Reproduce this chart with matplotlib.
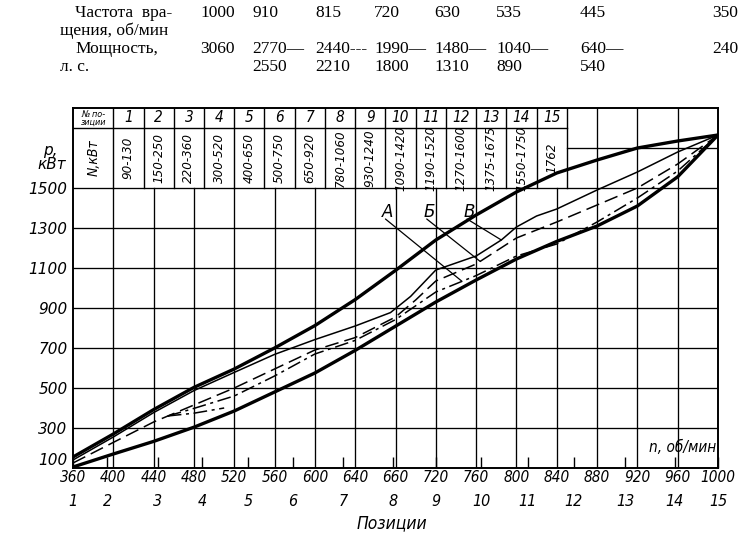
import matplotlib
matplotlib.use("Agg")
import matplotlib.pyplot as plt
from matplotlib import font_manager as fm
from matplotlib.font_manager import FontProperties
import numpy as np

# ---------------- data ----------------
# header table above the chart
hdr_freq = ["1000", "910", "815", "720", "630", "535", "445", "350"]
hdr_pow_top = ["3060", "2770—", "2440---", "1990—", "1480—", "1040—", "640—", "240"]
hdr_pow_bot = ["", "2550", "2210", "1800", "1310", "890", "540", ""]

# x axis (rotational speed, rpm)
n_ticks = [360, 400, 440, 480, 520, 560, 600, 640, 680, 720, 760, 800, 840, 880, 920, 960, 1000]
n_tick_labels = ["360", "400", "440", "480", "520", "560", "600", "640", "660", "720",
                 "760", "800", "840", "880", "920", "960", "1000"]
# controller positions
pos_n = [360, 394, 444, 488, 534, 578, 628, 678, 720, 765, 811, 857, 908, 957, 1000]
pos_labels = [str(i) for i in range(1, 16)]
pos_power = ["90-130", "150-250", "220-360", "300-520", "400-650", "500-750", "650-920",
             "780-1060", "930-1240", "1090-1420", "1190-1520", "1270-1600", "1375-1675",
             "1550-1750", "1762"]
# y axis
p_ticks = [100, 300, 500, 700, 900, 1100, 1300, 1500]

# curves
n_env = [360, 400, 440, 480, 520, 560, 600, 640, 680, 720, 760, 800, 840, 880, 920, 960, 1000]
p_max = [155, 270, 392, 503, 595, 700, 812, 942, 1088, 1240, 1365, 1480, 1575, 1640, 1700, 1735, 1765]
p_min = [105, 170, 233, 304, 385, 480, 575, 688, 809, 930, 1040, 1145, 1233, 1310, 1410, 1556, 1765]

n_V = [360, 400, 440, 480, 520, 560, 600, 640, 675, 695, 720, 760, 785, 800, 820, 840, 880, 920, 960, 1000]
p_V = [140, 255, 377, 487, 578, 668, 742, 810, 877, 958, 1090, 1160, 1240, 1305, 1360, 1395, 1490, 1580, 1680, 1765]

n_B = [360, 400, 440, 480, 520, 560, 600, 640, 680, 700, 720, 760, 800, 840, 880, 920, 960, 1000]
p_B = [125, 228, 330, 415, 500, 595, 690, 752, 855, 940, 1035, 1120, 1250, 1330, 1415, 1500, 1620, 1765]

n_A = [454, 480, 520, 560, 600, 640, 680, 720, 760, 800, 840, 880, 920, 960, 1000]
p_A = [360, 398, 460, 560, 670, 738, 842, 980, 1062, 1160, 1220, 1330, 1450, 1585, 1765]
n_A2 = [454, 480, 510]
p_A2 = [360, 374, 400]

# ---------------- fonts ----------------
def pick_font(pref_names, italic=True, bold=False):
    cands = []
    for f in fm.fontManager.ttflist:
        low = (f.name + " " + f.fname).lower()
        narrow = ("narrow" in low or "condensed" in low or
                  f.stretch in ("condensed", "semi-condensed"))
        if "extra" in low or "ultra" in low:
            continue
        if not narrow:
            continue
        it = f.style in ("italic", "oblique")
        if it != italic:
            continue
        rank = len(pref_names)
        for i, p in enumerate(pref_names):
            if f.name.lower().startswith(p.lower()):
                rank = i
                break
        w = f.weight if isinstance(f.weight, int) else 400
        cands.append((rank, abs(w - (700 if bold else 400)), f.fname))
    if cands:
        cands.sort()
        return cands[0][2]
    return None

narrow_path = pick_font(["Liberation Sans Narrow", "Noto Sans", "DejaVu Sans", "Roboto", "Open Sans"], True, False)

def nfp(size):
    if narrow_path:
        return FontProperties(fname=narrow_path, size=size)
    return FontProperties(family="DejaVu Sans", style="italic", size=size)

def ifp(size):
    return FontProperties(family="DejaVu Sans", style="italic", size=size)

def sfp(size):
    return FontProperties(family=["Liberation Serif", "DejaVu Serif"], size=size)

# ---------------- figure ----------------
W, H = 750, 535
fig = plt.figure(figsize=(W / 100, H / 100), dpi=100)
ax = fig.add_axes([73 / W, (H - 468) / H, 645 / W, 360 / H])
xmin, xmax, ymin, ymax = 360, 1000, 100, 1900
ax.set_xlim(xmin, xmax)
ax.set_ylim(ymin, ymax)

# table geometry (in data units)
tab_first_w = 40
tab_col_w = 30
tab_right = xmin + tab_first_w + tab_col_w * len(pos_power)
tab_bot, tab_mid, tab_top = 1500, 1800, 1900

# grid
glw = 0.95
for v in n_ticks[1:-1]:
    top = tab_bot if v < tab_right else ymax
    ax.plot([v, v], [ymin, top], color="black", lw=glw, zorder=1)
for v in p_ticks[1:]:
    ax.plot([xmin, xmax], [v, v], color="black", lw=glw, zorder=1)
ax.plot([tab_right, xmax], [1700, 1700], color="black", lw=glw, zorder=1)

# table lines
ax.plot([xmin, tab_right], [tab_mid, tab_mid], color="black", lw=1.0, zorder=1)
edges = [xmin + tab_first_w + tab_col_w * i for i in range(len(pos_power) + 1)]
for e in edges:
    ax.plot([e, e], [tab_bot, tab_top], color="black", lw=1.0, zorder=1)

# table text
ax.text(xmin + tab_first_w / 2, (tab_mid + tab_top) / 2, "№ по-\nзиции",
        fontproperties=nfp(6.5), ha="center", va="center", linespacing=0.85)
ax.text(xmin + tab_first_w / 2, (tab_bot + tab_mid) / 2, "N,кВт",
        fontproperties=nfp(10), ha="center", va="center", rotation=90)
for i, (lab, pw) in enumerate(zip(pos_labels, pos_power)):
    cx = edges[i] + tab_col_w / 2
    ax.text(cx, (tab_mid + tab_top) / 2, lab, fontproperties=nfp(11),
            ha="center", va="center")
    ax.text(cx, (tab_bot + tab_mid) / 2, pw, fontproperties=nfp(9.5),
            ha="center", va="center", rotation=90)

# curves
ax.plot(n_env, p_max, color="black", lw=2.4, zorder=3, solid_capstyle="round", solid_joinstyle="round")
ax.plot(n_env, p_min, color="black", lw=2.4, zorder=3, solid_capstyle="round", solid_joinstyle="round")
ax.plot(n_V, p_V, color="black", lw=1.1, zorder=3, solid_joinstyle="round")
ax.plot(n_B, p_B, color="black", lw=1.1, zorder=3, dashes=(9, 4))
ax.plot(n_A, p_A, color="black", lw=1.1, zorder=3, dashes=(9, 3, 2, 3))
ax.plot(n_A2, p_A2, color="black", lw=1.1, zorder=3, dashes=(9, 3, 2, 3))

# curve labels with leaders
for lab, nx, tx, arrs in (("А", 746, 672, (n_A, p_A)),
                          ("Б", 764, 713, (n_B, p_B)),
                          ("В", 785, 753, (n_V, p_V))):
    py = float(np.interp(nx, arrs[0], arrs[1]))
    ax.annotate("", xy=(nx, py), xytext=(tx - 2, 1345),
                arrowprops=dict(arrowstyle="-", lw=0.9, color="black",
                                shrinkA=0, shrinkB=0))
    ax.text(tx, 1380, lab, fontproperties=ifp(12), ha="center", va="center")

ax.text(xmax - 2, 205, "n, об/мин", fontproperties=nfp(11), ha="right", va="center")

# axes styling
for s in ax.spines.values():
    s.set_linewidth(1.4)
ax.set_xticks(n_ticks)
ax.set_xticklabels(n_tick_labels)
for t in ax.get_xticklabels():
    t.set_fontproperties(nfp(11))
ax.tick_params(axis="x", length=0, pad=1.5)
ax.set_yticks(p_ticks)
ax.set_yticklabels([str(v) for v in p_ticks])
for t in ax.get_yticklabels():
    t.set_fontproperties(ifp(11))
ax.tick_params(axis="y", length=0, pad=4)
ax.get_yticklabels()[0].set_va("bottom")

sec = ax.secondary_xaxis("bottom")
sec.set_xticks(pos_n)
sec.set_xticklabels(pos_labels)
for t in sec.get_xticklabels():
    t.set_fontproperties(nfp(11.5))
sec.tick_params(axis="x", direction="in", length=8, width=1.0, pad=19)
sec.spines["bottom"].set_visible(False)

fig.text(392 / W, 1 - 523 / H, "Позиции", fontproperties=nfp(12.5), ha="center", va="center")
fig.text(50 / W, 1 - 150 / H, "p,", fontproperties=ifp(11), ha="center", va="center")
fig.text(52 / W, 1 - 165 / H, "кВт", fontproperties=ifp(11), ha="center", va="center")

# top text block
def ftxt(x, y, s, ha="left"):
    fig.text(x / W, 1 - y / H, s, fontproperties=sfp(12.5), ha=ha, va="center")

ftxt(75, 13, "Частота  вра-")
ftxt(60, 31, "щения, об/мин")
ftxt(75, 49, "Мощность,")
ftxt(60, 67, "л. с.")
col_x = [200, 252, 315, 374, 434, 496, 580, 712]
for x, a, b, c in zip(col_x, hdr_freq, hdr_pow_top, hdr_pow_bot):
    ftxt(x, 13, a)
    ftxt(x, 49, b)
    if c:
        ftxt(x, 67, c)

fig.savefig("out.png", dpi=100)
